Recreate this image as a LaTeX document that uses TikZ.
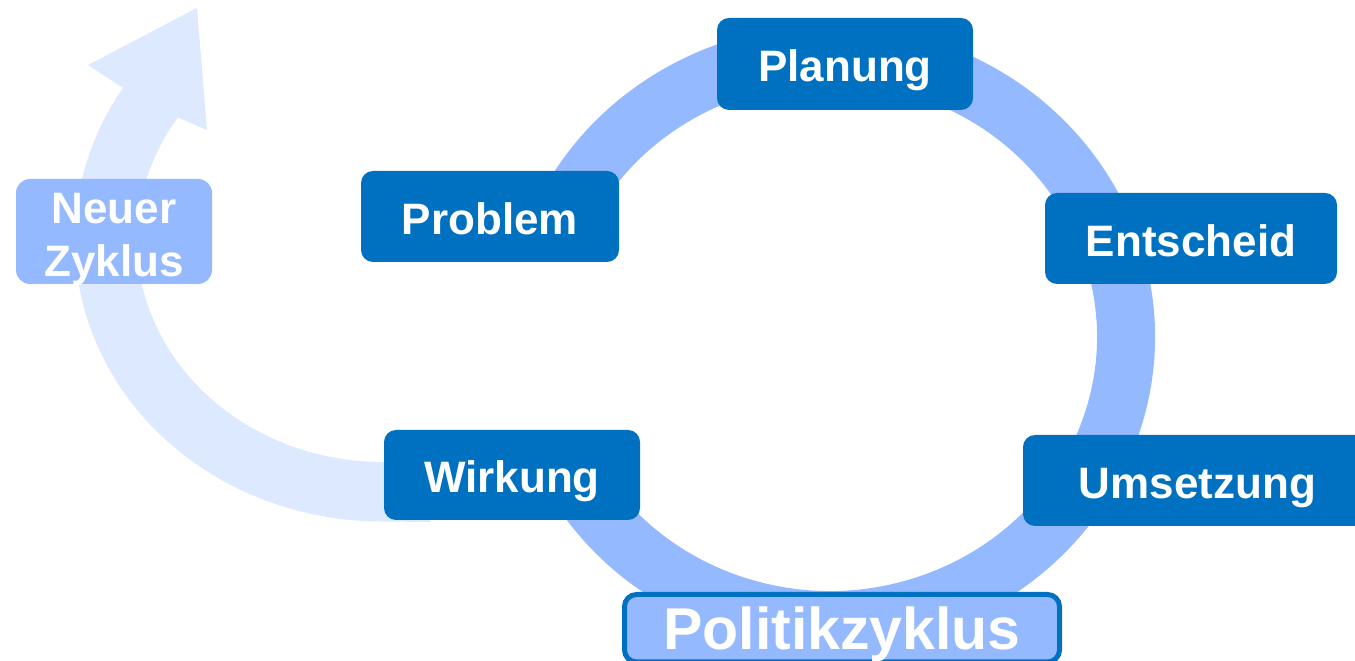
\documentclass[tikz,border=0pt]{standalone}
\usepackage{fontspec}
\setmainfont{Liberation Sans}
\definecolor{boxblue}{HTML}{0070C0}
\definecolor{ringblue}{HTML}{95B9FF}
\definecolor{arrowblue}{HTML}{DDE9FF}
\newcommand\twolines[2]{\vbox{\halign{\hfil##\hfil\cr#1\cr#2\cr}}}
\tikzset{
  stagebox/.style={rectangle, rounded corners=12pt, fill=boxblue, text=white,
    font=\fontsize{44}{53}\selectfont\bfseries, text height=35.5pt, text depth=0pt,
    inner sep=0pt},
  lightbox/.style={rectangle, rounded corners=14pt, fill=ringblue, text=white,
    font=\fontsize{44}{53}\selectfont\bfseries, inner sep=0pt},
}
\begin{document}
\begin{tikzpicture}[x=1pt,y=1pt]
\useasboundingbox (0,0) rectangle (1355,661);
% Neuer-Zyklus arrow
\fill[arrowblue] (430,199) -- (383,199)
  arc[start angle=270, end angle=146.5, x radius=246, y radius=222]
  -- (207,531) -- (197,653) -- (88,596) -- (123,573)
  arc[start angle=147.5, end angle=270, x radius=307, y radius=282]
  -- (430,139) -- cycle;
% policy ring
\draw[ringblue, line width=58pt] (830,324) ++(162:296 and 283)
  arc[start angle=162, end angle=-156, x radius=296, y radius=283];
% stages
\node[stagebox, minimum width=256pt, minimum height=92pt] (planung) at (845,597) {Planung};
\node[stagebox, minimum width=258pt, minimum height=91pt] (problem) at (490,444.5) {Problem};
\node[stagebox, minimum width=292pt, minimum height=91pt] (entscheid) at (1191,422.5) {Entscheid};
\node[stagebox, minimum width=349pt, minimum height=91pt] (umsetzung) at (1197.5,180.5) {Umsetzung};
\node[stagebox, minimum width=256pt, minimum height=90pt] (wirkung) at (512,186) {Wirkung};
\node[lightbox, minimum width=196pt, minimum height=105pt, text height=90.5pt, text depth=0pt] (neuer) at (114,429.5) {\twolines{Neuer}{Zyklus}};
\node[lightbox, rounded corners=12pt, draw=boxblue, line width=5pt, minimum width=435pt, minimum height=67.5pt,
  font=\fontsize{59}{70}\selectfont\bfseries, text height=42pt, text depth=0pt] (politik) at (842,32.75) {Politikzyklus};
\end{tikzpicture}
\end{document}
